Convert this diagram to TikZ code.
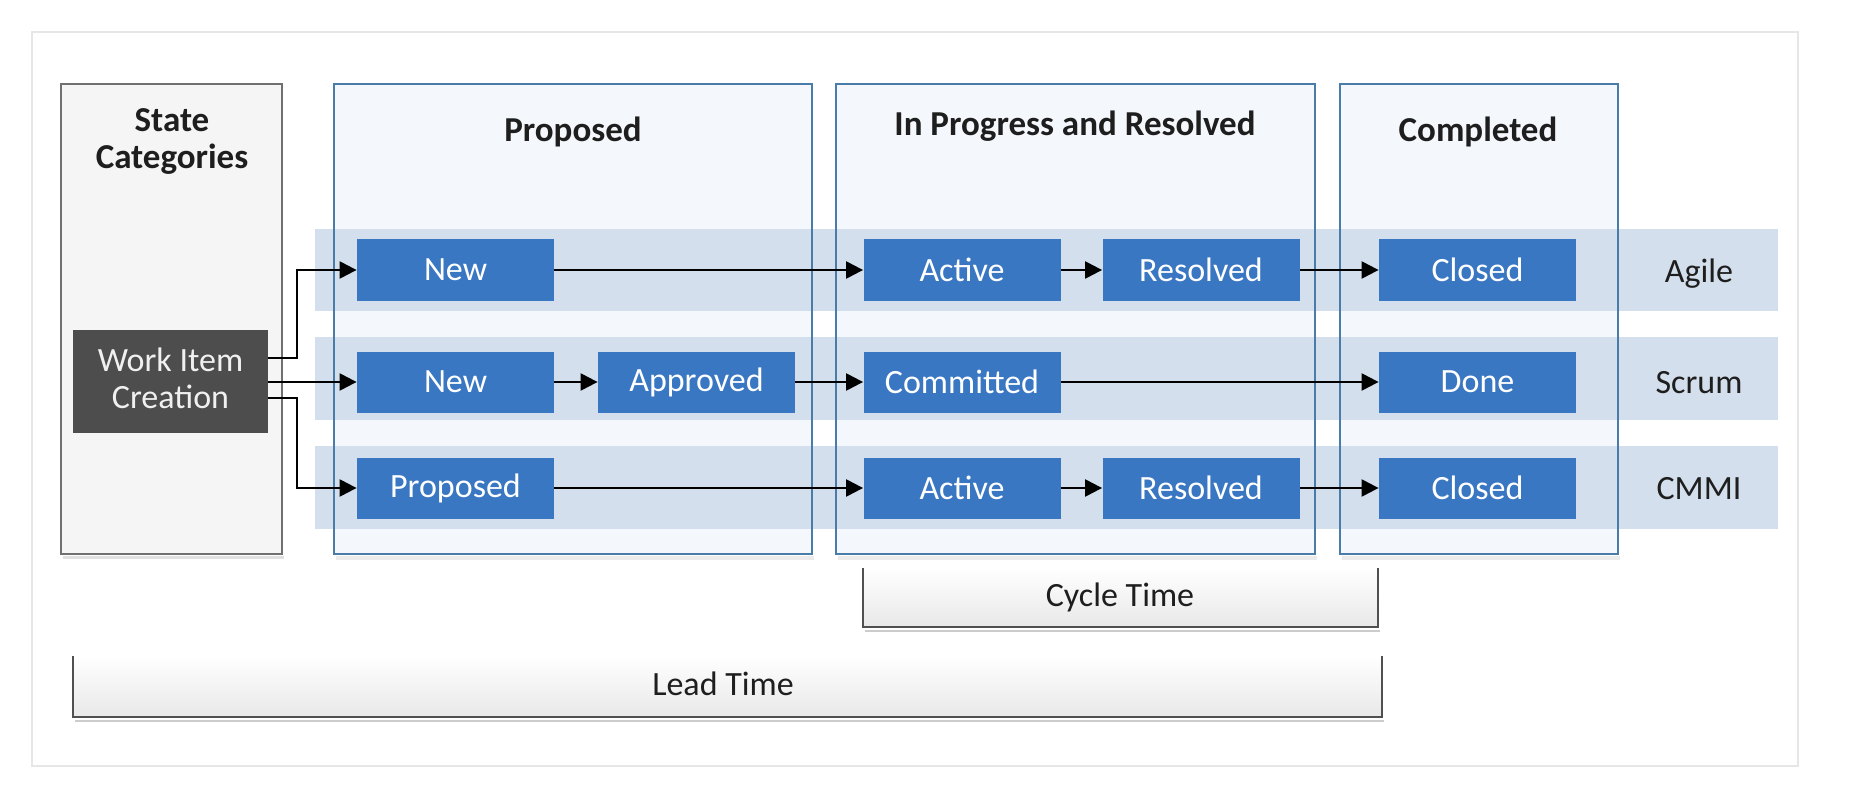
\documentclass[tikz,border=0pt]{standalone}
\usepackage{fontspec}
\setmainfont{Carlito}
\usetikzlibrary{arrows.meta}
\definecolor{nodeblue}{RGB}{58,119,194}
\definecolor{bandblue}{RGB}{211,223,236}
\definecolor{colborder}{RGB}{74,124,170}
\definecolor{colfill}{RGB}{244,247,251}
\definecolor{statefill}{RGB}{245,245,245}
\definecolor{stateborder}{RGB}{112,112,112}
\definecolor{wicfill}{RGB}{77,77,77}
\definecolor{framegray}{RGB}{230,230,230}
\definecolor{titlecol}{RGB}{30,30,30}
\definecolor{bracketcol}{RGB}{80,80,80}
\begin{document}
\begin{tikzpicture}[x=0.5pt,y=-0.5pt,
  stbox/.style={fill=nodeblue, text=white, minimum width=98.5pt, minimum height=30.5pt, inner sep=0pt, font=\fontsize{17}{20}\selectfont},
  conn/.style={-{Triangle[length=8.5pt,width=8.5pt]}, line width=1.1pt, black},
  coltitle/.style={font=\fontsize{17.5}{18.5}\selectfont\bfseries, text=titlecol, align=center, inner sep=0pt},
  lbl/.style={font=\fontsize{17}{20}\selectfont, text=titlecol, inner sep=0pt, text height=11pt, text depth=0pt},
  colframe/.style={draw=colborder, line width=1pt},
  band/.style={fill=bandblue},
  bracketline/.style={draw=bracketcol, line width=1.2pt},
  bracketfill/.style={top color=white, bottom color=black!9}
]
\useasboundingbox (0,0) rectangle (1876,808);
\fill[white] (0,0) rectangle (1876,808);
\draw[framegray, line width=1pt] (32,32) rectangle (1798,766);

% State categories box
\fill[black!12] (63,556) rectangle (284,559);
\fill[statefill] (61,84) rectangle (282,554);
\draw[stateborder, line width=1pt] (61,84) rectangle (282,554);
\node[coltitle] (tstate) at (172,141) {State\\Categories};

% Column fills
\foreach \a/\b in {334/812, 836/1315, 1340/1618}{
  \fill[black!8] (\a+2,556) rectangle (\b+2,560);
  \fill[colfill] (\a,84) rectangle (\b,554);
}

% Bands
\fill[band] (315,229) rectangle (1778,311);
\fill[band] (315,337) rectangle (1778,420);
\fill[band] (315,446) rectangle (1778,529);

% Column frames
\draw[colframe] (334,84) rectangle (812,554);
\draw[colframe] (836,84) rectangle (1315,554);
\draw[colframe] (1340,84) rectangle (1618,554);

\node[coltitle] (tprop) at (573,132) {Proposed};
\node[coltitle] (tprog) at (1075,126) {In Progress and Resolved};
\node[coltitle] (tcomp) at (1478,132) {Completed};

% Work item creation
\fill[wicfill] (73,330) rectangle (268,433);
\node[text=black!6, inner sep=0pt, align=center,
      font=\fontsize{17}{18.5}\selectfont] (wic) at (170.5,378) {Work Item\\Creation};

% State nodes
\node[stbox] (new1) at (455.5,270) {New};
\node[stbox] (act1) at (962,270) {Active};
\node[stbox] (res1) at (1201,270) {Resolved};
\node[stbox] (clo1) at (1477.5,270) {Closed};

\node[stbox] (new2) at (455.5,382) {New};
\node[stbox] (app2) at (696.5,382) {Approved};
\node[stbox] (com2) at (962,382) {Committed};
\node[stbox] (don2) at (1477.5,382) {Done};

\node[stbox] (pro3) at (455.5,488) {Proposed};
\node[stbox] (act3) at (962,488) {Active};
\node[stbox] (res3) at (1201,488) {Resolved};
\node[stbox] (clo3) at (1477.5,488) {Closed};

% Row labels
\node[lbl] (lagile) at (1699,272) {Agile};
\node[lbl] (lscrum) at (1699,382) {Scrum};
\node[lbl] (lcmmi) at (1699,488) {CMMI};

% Connectors from work item creation
\coordinate (wa) at (268,358);
\coordinate (wm) at (268,382);
\coordinate (wb) at (268,398);
\coordinate (ka) at (297,358);
\coordinate (kb) at (297,398);
\draw[conn] (wa) -- (ka) |- (new1.west);
\draw[conn] (wm) -- (new2.west);
\draw[conn] (wb) -- (kb) |- (pro3.west);

% Row connectors
\draw[conn] (new1) -- (act1);
\draw[conn] (act1) -- (res1);
\draw[conn] (res1) -- (clo1);
\draw[conn] (new2) -- (app2);
\draw[conn] (app2) -- (com2);
\draw[conn] (com2) -- (don2);
\draw[conn] (pro3) -- (act3);
\draw[conn] (act3) -- (res3);
\draw[conn] (res3) -- (clo3);

% Cycle time bracket
\shade[bracketfill] (863,568) rectangle (1378,627);
\draw[bracketline] (863,568) -- (863,627) -- (1378,627) -- (1378,568);
\draw[black!20, line width=1pt] (865,631) -- (1380,631);
\node[lbl] (cycle) at (1120,595) {Cycle Time};

% Lead time bracket
\shade[bracketfill] (73,656) rectangle (1382,717);
\draw[bracketline] (73,656) -- (73,717) -- (1382,717) -- (1382,656);
\draw[black!20, line width=1pt] (75,721) -- (1384,721);
\node[lbl] (lead) at (723,684) {Lead Time};
\end{tikzpicture}
\end{document}
